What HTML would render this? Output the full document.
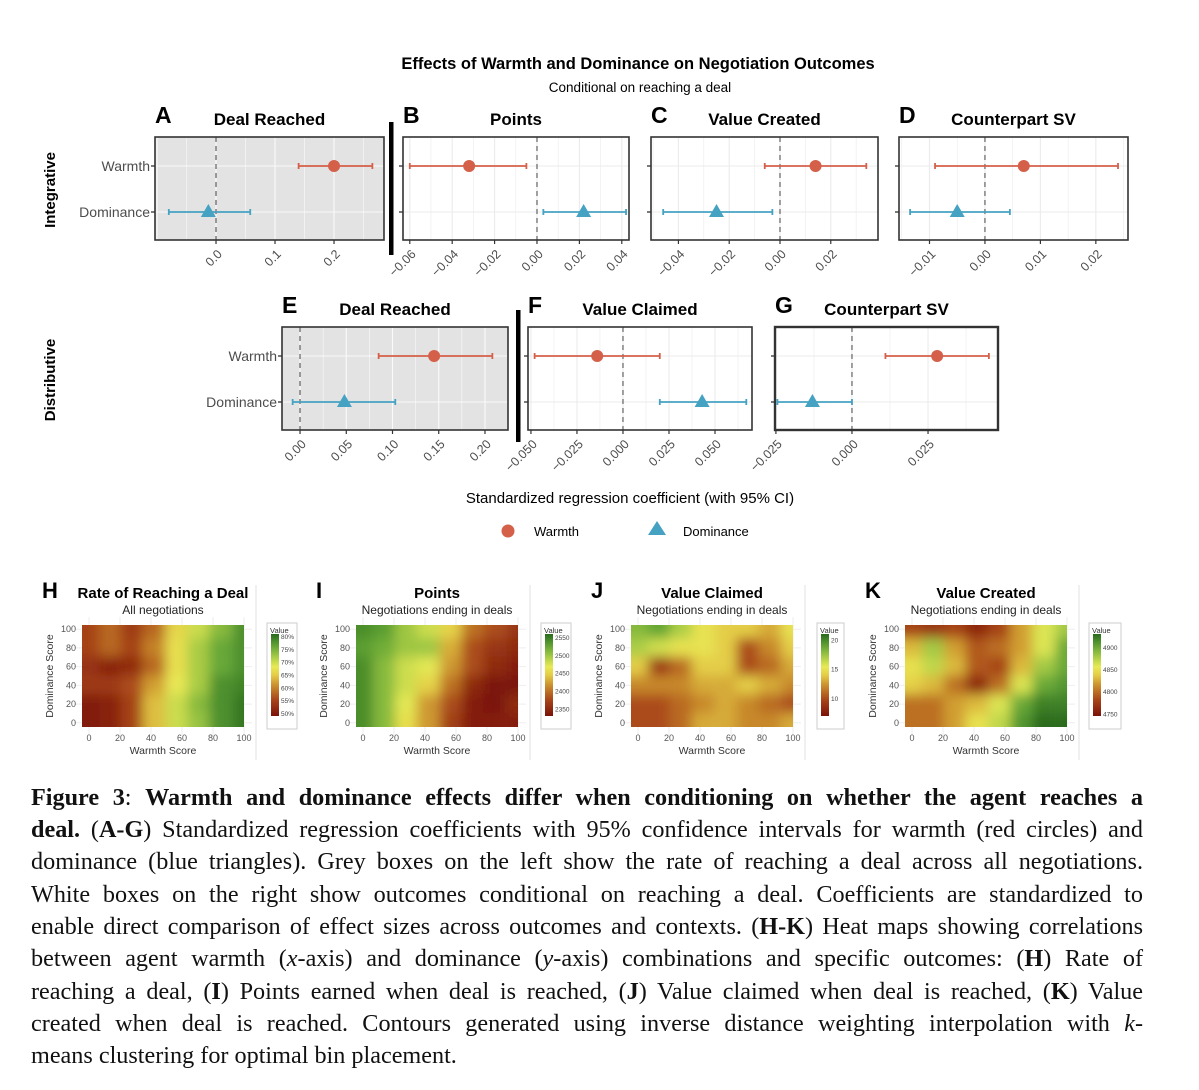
<!DOCTYPE html>
<html><head><meta charset="utf-8">
<style>
html,body{margin:0;padding:0;background:#fff;}
body{width:1199px;height:1090px;position:relative;overflow:hidden;font-family:"Liberation Sans",sans-serif;}
#chart{position:absolute;left:0;top:0;}
.cap{position:absolute;left:31px;width:1112px;font-family:"Liberation Serif",serif;font-size:24.2px;color:#111;white-space:nowrap;text-align:justify;text-align-last:justify;line-height:32px;}
.cap.last{text-align-last:left;}
</style></head>
<body>
<svg id="chart" width="1199" height="775" xmlns="http://www.w3.org/2000/svg" font-family="Liberation Sans, sans-serif">
  <defs>
    <filter id="blur" x="-20%" y="-20%" width="140%" height="140%"><feGaussianBlur stdDeviation="6"/></filter>
  </defs>
  <text x="638" y="69" text-anchor="middle" font-size="16.5" font-weight="bold">Effects of Warmth and Dominance on Negotiation Outcomes</text>
  <text x="640" y="92" text-anchor="middle" font-size="13.5">Conditional on reaching a deal</text>
  <text transform="translate(55,190) rotate(-90)" text-anchor="middle" font-size="15" font-weight="bold">Integrative</text>
  <text transform="translate(55,380) rotate(-90)" text-anchor="middle" font-size="15" font-weight="bold">Distributive</text>
  <rect x="389" y="122" width="4.5" height="133" fill="#000"/>
  <rect x="516" y="310" width="4.5" height="132" fill="#000"/>
  <text x="630" y="503" text-anchor="middle" font-size="15">Standardized regression coefficient (with 95% CI)</text>
  <circle cx="508" cy="531" r="6.5" fill="#d5604a"/>
  <text x="534" y="536" font-size="13">Warmth</text>
  <polygon points="657,521 666,535 648,535" fill="#45a2c2"/>
  <text x="683" y="536" font-size="13">Dominance</text>
  <g id="forest"></g>
  <g id="heat"></g>
</svg>

<div class="cap" style="top:782px"><b>Figure 3</b>: <b>Warmth and dominance effects differ when conditioning on whether the agent reaches a</b></div>
<div class="cap" style="top:814px"><b>deal.</b> (<b>A-G</b>) Standardized regression coefficients with 95% confidence intervals for warmth (red circles) and</div>
<div class="cap" style="top:846px">dominance (blue triangles). Grey boxes on the left show the rate of reaching a deal across all negotiations.</div>
<div class="cap" style="top:879px">White boxes on the right show outcomes conditional on reaching a deal. Coefficients are standardized to</div>
<div class="cap" style="top:911px">enable direct comparison of effect sizes across outcomes and contexts. (<b>H-K</b>) Heat maps showing correlations</div>
<div class="cap" style="top:943px">between agent warmth (<i>x</i>-axis) and dominance (<i>y</i>-axis) combinations and specific outcomes: (<b>H</b>) Rate of</div>
<div class="cap" style="top:976px">reaching a deal, (<b>I</b>) Points earned when deal is reached, (<b>J</b>) Value claimed when deal is reached, (<b>K</b>) Value</div>
<div class="cap" style="top:1008px">created when deal is reached. Contours generated using inverse distance weighting interpolation with <i>k</i>-</div>
<div class="cap last" style="top:1040px">means clustering for optimal bin placement.</div>

<script>
// ---------- Forest plot data ----------
const panelLetters = ['A','B','C','D','E','F','G'];
const panelTitles = ['Deal Reached','Points','Value Created','Counterpart SV','Deal Reached','Value Claimed','Counterpart SV'];
const warmthEst = [0.2, -0.032, 0.014, 0.007, 0.145, -0.014, 0.028];
const warmthLo  = [0.14, -0.06, -0.006, -0.009, 0.085, -0.048, 0.011];
const warmthHi  = [0.265, -0.005, 0.034, 0.024, 0.208, 0.020, 0.045];
const domEst = [-0.013, 0.022, -0.025, -0.005, 0.048, 0.043, -0.013];
const domLo  = [-0.08, 0.003, -0.046, -0.0135, -0.008, 0.020, -0.0245];
const domHi  = [0.058, 0.042, -0.003, 0.0045, 0.103, 0.067, 0.0];
const tickVals = [
  [0, 0.1, 0.2],
  [-0.06, -0.04, -0.02, 0, 0.02, 0.04],
  [-0.04, -0.02, 0, 0.02],
  [-0.01, 0, 0.01, 0.02],
  [0, 0.05, 0.1, 0.15, 0.2],
  [-0.05, -0.025, 0, 0.025, 0.05],
  [-0.025, 0, 0.025]
];
const tickLabels = [
  ['0.0','0.1','0.2'],
  ['\u22120.06','\u22120.04','\u22120.02','0.00','0.02','0.04'],
  ['\u22120.04','\u22120.02','0.00','0.02'],
  ['\u22120.01','0.00','0.01','0.02'],
  ['0.00','0.05','0.10','0.15','0.20'],
  ['\u22120.050','\u22120.025','0.000','0.025','0.050'],
  ['\u22120.025','0.000','0.025']
];
const rowLabels = ['Warmth','Dominance'];

// layout (not data)
const panelLayout = [
  {x0:155,x1:384,y0:137,y1:240,min:-0.1034,max:0.2847,grey:true,labels:true},
  {x0:403,x1:629,y0:137,y1:240,min:-0.0632,max:0.0434},
  {x0:651,x1:878,y0:137,y1:240,min:-0.0508,max:0.0386},
  {x0:899,x1:1128,y0:137,y1:240,min:-0.0155,max:0.0258},
  {x0:282,x1:508,y0:327,y1:430,min:-0.0195,max:0.2249,grey:true,labels:true},
  {x0:528,x1:752,y0:327,y1:430,min:-0.0516,max:0.0701},
  {x0:775,x1:998,y0:327,y1:430,min:-0.0253,max:0.048,thick:true}
];
const NS='http://www.w3.org/2000/svg';
function mk(tag, attrs, parent){const e=document.createElementNS(NS,tag);for(const k in attrs)e.setAttribute(k,attrs[k]);if(parent)parent.appendChild(e);return e;}
const forest=document.getElementById('forest');
const RED='#d5604a', BLUE='#45a2c2';
panelLayout.forEach((L,i)=>{
  const g=mk('g',{},forest);
  
  
  const sx=v=>L.x0+(v-L.min)/(L.max-L.min)*(L.x1-L.x0);
  const yW=L.y0+29, yD=L.y0+75;
  const bg=mk('rect',{x:L.x0,y:L.y0,width:L.x1-L.x0,height:L.y1-L.y0,fill:L.grey?'#e3e3e3':'#fff'},g);
  
  
  const gc=L.grey?'#fafafa':'#ebebeb';
  const tv=tickVals[i];
  const step=tv[1]-tv[0];
  for(let k=-1;k<tv.length+1;k++){
    const v=tv[0]+step*k, vm=v+step/2;
    [v,vm].forEach((vv,j)=>{
      const x=sx(vv); if(x<=L.x0||x>=L.x1)return;
      const ln=mk('line',{x1:x,x2:x,y1:L.y0,y2:L.y1,stroke:gc,'stroke-width':j?0.6:1.1},g);
      
      
    });
  }
  [yW,yD].forEach(y=>{
    const ln=mk('line',{x1:L.x0,x2:L.x1,y1:y,y2:y,stroke:gc,'stroke-width':1.1},g);
    
    
  });
  const z=mk('line',{x1:sx(0),x2:sx(0),y1:L.y0,y2:L.y1,stroke:'#6e6e6e','stroke-width':1.3,'stroke-dasharray':'5,4'},g);
  
  
  const ci=(lo,hi,y,col,name)=>{
    const c=mk('g',{stroke:col,'stroke-width':1.8},g);
    
    
    mk('line',{x1:sx(lo),x2:sx(hi),y1:y,y2:y},c);
    mk('line',{x1:sx(lo),x2:sx(lo),y1:y-3,y2:y+3},c);
    mk('line',{x1:sx(hi),x2:sx(hi),y1:y-3,y2:y+3},c);
  };
  ci(warmthLo[i],warmthHi[i],yW,RED,'warmth-ci');
  ci(domLo[i],domHi[i],yD,BLUE,'dominance-ci');
  const pt=mk('circle',{cx:sx(warmthEst[i]),cy:yW,r:6,fill:RED},g);
  
  
  const dx=sx(domEst[i]);
  const tri=mk('polygon',{points:`${dx},${yD-8} ${dx+7.5},${yD+5} ${dx-7.5},${yD+5}`,fill:BLUE},g);
  
  
  const fr=mk('rect',{x:L.x0,y:L.y0,width:L.x1-L.x0,height:L.y1-L.y0,fill:'none',stroke:'#333','stroke-width':L.thick?2.4:1.6},g);
  
  
  [yW,yD].forEach((y,r)=>{
    mk('line',{x1:L.x0-4,x2:L.x0,y1:y,y2:y,stroke:'#333','stroke-width':1.3},g);
    if(L.labels){
      const t=mk('text',{x:L.x0-5,y:y+5,'text-anchor':'end','font-size':14,fill:'#4d4d4d'},g);
      
      
      t.textContent=rowLabels[r];
    }
  });
  tv.forEach((v,k)=>{
    const x=sx(v);
    if(x<L.x0-1||x>L.x1+1)return;
    mk('line',{x1:x,x2:x,y1:L.y1,y2:L.y1+4,stroke:'#333','stroke-width':1.2},g);
    const t=mk('text',{x:x+4,y:L.y1+16,'text-anchor':'end','font-size':12.5,fill:'#4d4d4d',transform:`rotate(-45,${x+4},${L.y1+12})`},g);
    
    
    t.textContent=tickLabels[i][k];
  });
  const tl=mk('text',{x:(L.x0+L.x1)/2,y:L.y0-12,'text-anchor':'middle','font-size':17,'font-weight':'bold'},g);
  
  
  tl.textContent=panelTitles[i];
  const lt=mk('text',{x:L.x0,y:L.y0-14,'font-size':23,'font-weight':'bold'},g);
  
  
  lt.textContent=panelLetters[i];
});

// ---------- Heatmap data (rows: dominance 100 -> 0, cols: warmth 0 -> 100) ----------
const heatWarmth = [0, 14, 28, 42, 57, 71, 85, 100];
const heatDominance = [100, 80, 60, 40, 20, 0];
const heatH = [
  [55,58,54,58,66,70,74,78],
  [55,58,55,60,67,72,76,78],
  [53,51,52,58,67,72,76,78],
  [54,54,56,62,68,72,78,79],
  [50,51,55,64,70,74,78,80],
  [50,51,55,64,70,73,78,80]
];
const heatI = [
  [2540,2530,2500,2480,2450,2400,2380,2360],
  [2530,2520,2500,2500,2430,2380,2360,2350],
  [2540,2510,2480,2470,2420,2380,2350,2340],
  [2540,2510,2480,2450,2400,2350,2330,2330],
  [2540,2510,2470,2420,2380,2340,2330,2350],
  [2540,2510,2460,2420,2370,2340,2340,2340]
];
const heatJ = [
  [18,19,17,15,14,14,13,15],
  [17,16,15,15,14,10,12,14],
  [14,9,11,14,14,10,11,13],
  [12,12,12,13,13,14,13,12],
  [10,10,11,12,13,12,11,10],
  [10,10,11,13,13,12,12,13]
];
const heatK = [
  [4780,4770,4780,4760,4780,4820,4860,4880],
  [4830,4880,4820,4790,4800,4820,4860,4900],
  [4850,4870,4830,4790,4780,4830,4880,4900],
  [4840,4830,4800,4760,4800,4860,4900,4910],
  [4800,4800,4820,4830,4860,4900,4920,4920],
  [4800,4800,4820,4850,4870,4910,4930,4930]
];
const heatLetters = ['H','I','J','K'];
const heatTitles = ['Rate of Reaching a Deal','Points','Value Claimed','Value Created'];
const heatSubtitles = ['All negotiations','Negotiations ending in deals','Negotiations ending in deals','Negotiations ending in deals'];
const legendTicksH = ['80%','75%','70%','65%','60%','55%','50%'];
const legendValsH = [80,75,70,65,60,55,50];
const legendTicksI = ['2550','2500','2450','2400','2350'];
const legendValsI = [2550,2500,2450,2400,2350];
const legendTicksJ = ['20','15','10'];
const legendValsJ = [20,15,10];
const legendTicksK = ['4900','4850','4800','4750'];
const legendValsK = [4900,4850,4800,4750];
const axisTicks = [0,20,40,60,80,100];

const heatLayout = [
  {px:82,grid:heatH,min:49,max:81,lt:legendTicksH,lv:legendValsH,lx:267,lw:30,sep:256,cb:[634,716]},
  {px:356,grid:heatI,min:2330,max:2560,lt:legendTicksI,lv:legendValsI,lx:541,lw:30,sep:530,cb:[634,716]},
  {px:631,grid:heatJ,min:7,max:21,lt:legendTicksJ,lv:legendValsJ,lx:817,lw:27,sep:805,cb:[634,716]},
  {px:905,grid:heatK,min:4745,max:4930,lt:legendTicksK,lv:legendValsK,lx:1089,lw:32,sep:1079,cb:[634,716]}
];
const cstops=[[0,[122,18,8]],[0.2,[168,70,26]],[0.36,[200,137,42]],[0.5,[228,205,70]],[0.6,[232,234,85]],[0.72,[168,204,69]],[0.86,[95,163,53]],[1,[42,106,30]]];
function cmap(t){t=Math.max(0,Math.min(1,t));for(let i=1;i<cstops.length;i++){if(t<=cstops[i][0]){const a=cstops[i-1],b=cstops[i];const f=(t-a[0])/(b[0]-a[0]);const c=a[1].map((v,k)=>Math.round(v+(b[1][k]-v)*f));return `rgb(${c[0]},${c[1]},${c[2]})`;}}return 'rgb(42,106,30)';}
const heat=document.getElementById('heat');
const defs=document.querySelector('defs');
heatLayout.forEach((L,i)=>{
  const g=mk('g',{},heat);
  
  
  const PX0=L.px, PX1=L.px+162, PY0=625, PY1=727;
  const xs=v=>PX0+(v+4.5)/104.5*(PX1-PX0);
  const ys=v=>PY1-(v+4.5)/109*(PY1-PY0);
  axisTicks.forEach(v=>{
    mk('line',{x1:xs(v),x2:xs(v),y1:PY0-8,y2:PY1+8,stroke:'#eee','stroke-width':1},g);
    mk('line',{x1:PX0-8,x2:PX1+8,y1:ys(v),y2:ys(v),stroke:'#eee','stroke-width':1},g);
  });
  const cp=mk('clipPath',{id:'clip'+i},defs);
  mk('rect',{x:PX0,y:PY0,width:PX1-PX0,height:PY1-PY0},cp);
  const cg=mk('g',{'clip-path':`url(#clip${i})`},g);
  const bg=mk('g',{filter:'url(#blur)'},cg);
  const nC=heatWarmth.length, nR=heatDominance.length;
  L.grid.forEach((row,r)=>{
    row.forEach((v,c)=>{
      const cx=xs(heatWarmth[c]), cy=ys(heatDominance[r]);
      const hw=(xs(100)-xs(0))/(nC-1)/2+0.5, hh=(ys(0)-ys(100))/(nR-1)/2+0.5;
      let x0=cx-hw,x1=cx+hw,y0=cy-hh,y1=cy+hh;
      if(c===0)x0-=30; if(c===nC-1)x1+=30; if(r===0)y0-=30; if(r===nR-1)y1+=30;
      const cell=mk('rect',{x:x0,y:y0,width:x1-x0,height:y1-y0,fill:cmap((v-L.min)/(L.max-L.min))},bg);
      
      
    });
  });
  axisTicks.forEach(v=>{
    const tx=mk('text',{x:xs(v),y:PY1+14,'text-anchor':'middle','font-size':9,fill:'#555'},g);
    
    
    tx.textContent=v;
    const ty=mk('text',{x:PX0-6,y:ys(v)+3,'text-anchor':'end','font-size':9,fill:'#555'},g);
    
    
    ty.textContent=v;
  });
  const xa=mk('text',{x:(PX0+PX1)/2,y:PY1+27,'text-anchor':'middle','font-size':10.5,fill:'#333'},g);
  
  
  xa.textContent='Warmth Score';
  const ya=mk('text',{transform:`translate(${PX0-29},${(PY0+PY1)/2}) rotate(-90)`,'text-anchor':'middle','font-size':10.5,fill:'#333'},g);
  
  
  ya.textContent='Dominance Score';
  const tcx = i===0 ? PX0+81 : (PX0+PX1)/2;
  const t=mk('text',{x:tcx,y:598,'text-anchor':'middle','font-size':15,'font-weight':'bold'},g);
  
  
  t.textContent=heatTitles[i];
  const st=mk('text',{x:(PX0+PX1)/2,y:614,'text-anchor':'middle','font-size':12,fill:'#222'},g);
  
  
  st.textContent=heatSubtitles[i];
  const lt=mk('text',{x:PX0-40,y:598,'font-size':22,'font-weight':'bold'},g);
  
  
  lt.textContent=heatLetters[i];
  const sp=mk('line',{x1:L.sep,x2:L.sep,y1:585,y2:760,stroke:'#e2e2e2','stroke-width':1},g);
  
  
  const lg=mk('g',{},g);
  
  
  mk('rect',{x:L.lx,y:623,width:L.lw,height:106,fill:'#fff',stroke:'#ccc','stroke-width':1},lg);
  mk('text',{x:L.lx+3,y:633,'font-size':7.5,fill:'#333'},lg).textContent='Value';
  const gid='lg'+i;
  const lgr=mk('linearGradient',{id:gid,x1:0,y1:1,x2:0,y2:0},defs);
  for(let s=0;s<=10;s++)mk('stop',{offset:s/10,'stop-color':cmap(s/10)},lgr);
  const cb0=L.cb[0], cb1=L.cb[1];
  mk('rect',{x:L.lx+4,y:cb0,width:8,height:cb1-cb0,fill:`url(#${gid})`},lg);
  const lys=v=>cb1-(v-L.min)/(L.max-L.min)*(cb1-cb0);
  L.lv.forEach((v,k)=>{
    const tt=mk('text',{x:L.lx+14,y:lys(v)+2.5,'font-size':6.5,fill:'#444'},lg);
    
    
    tt.textContent=L.lt[k];
  });
});
</script>
</body></html>
